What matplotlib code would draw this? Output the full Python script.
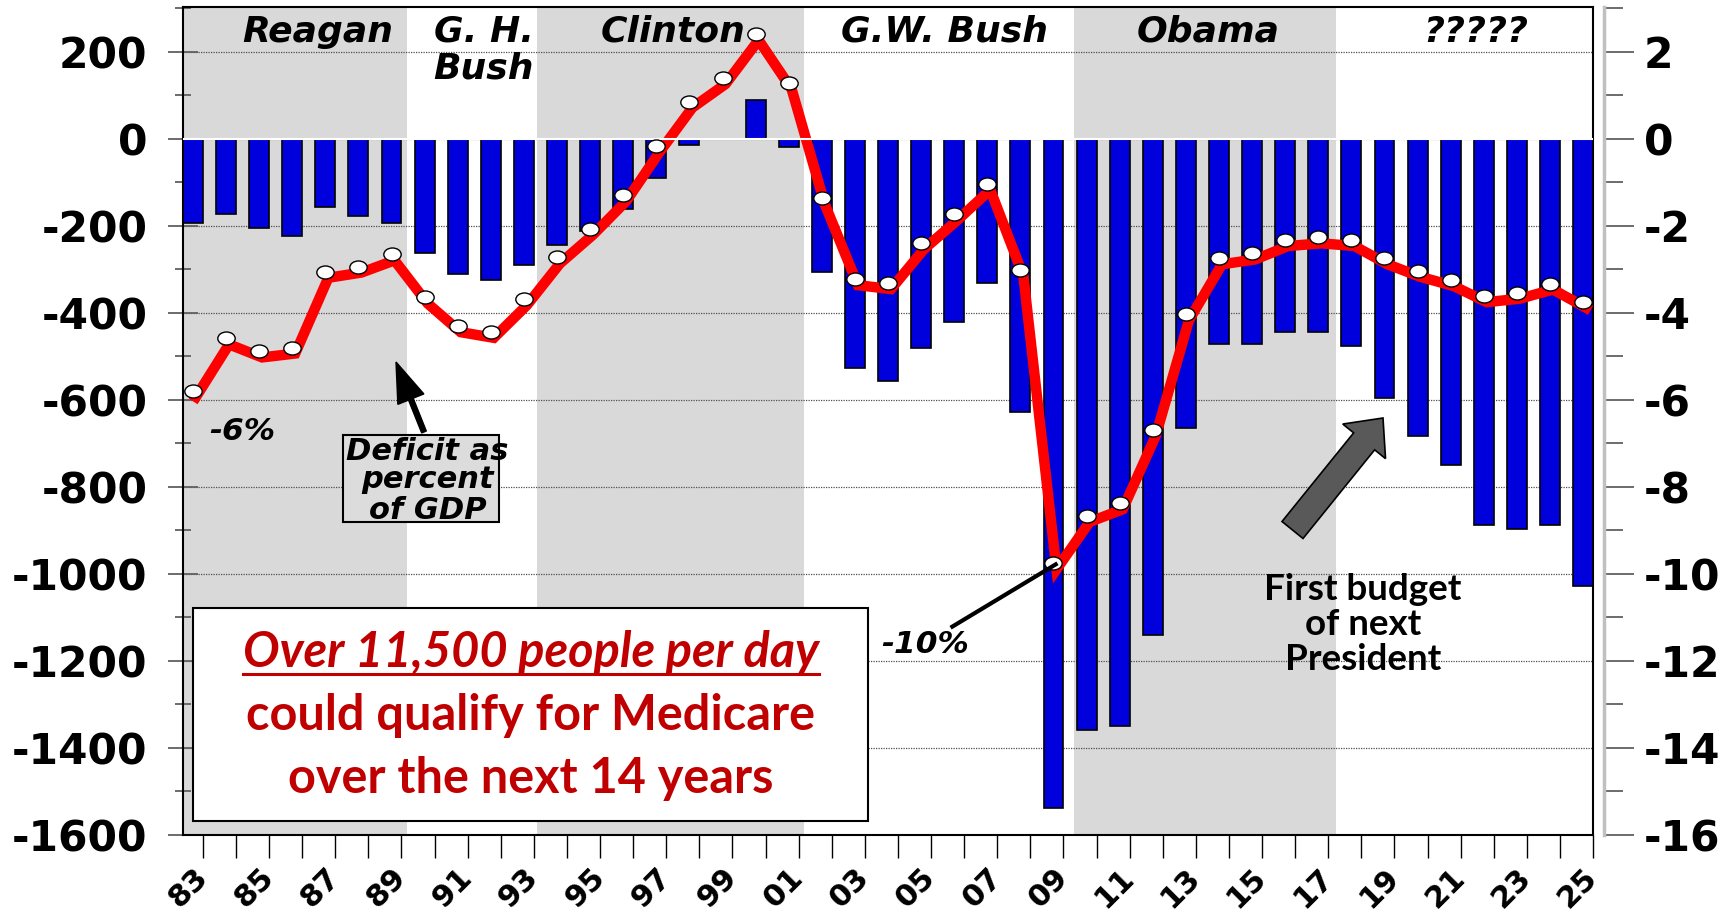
import numpy as np
import matplotlib
matplotlib.use("Agg")
import matplotlib.pyplot as plt
from matplotlib.patches import Rectangle, FancyArrow
from matplotlib.lines import Line2D
from matplotlib.markers import MarkerStyle
from matplotlib.transforms import Affine2D, ScaledTranslation, IdentityTransform
from matplotlib.ticker import MultipleLocator, FormatStrFormatter

plt.rcParams['font.family'] = 'DejaVu Sans'
plt.rcParams['font.weight'] = 'bold'
plt.rcParams['axes.unicode_minus'] = False

# fiscal years and deficits ($ billions, left axis) / deficit as % of GDP (right axis)
years = list(range(1983, 2026))
deficit_bn = [-194, -173, -206, -223, -157, -178, -194, -264, -310, -326,
              -290, -244, -212, -161, -90, -15, 0, 88, -20, -306,
              -527, -556, -481, -422, -332, -628, -1538, -1358, -1350, -1140,
              -665, -472, -472, -444, -444, -476, -596, -683, -750, -888,
              -896, -888, -1028]
deficit_pct = [-5.80, -4.59, -4.89, -4.80, -3.06, -2.94, -2.66, -3.65, -4.31, -4.44,
               -3.69, -2.73, -2.07, -1.30, -0.18, 0.85, 1.39, 2.40, 1.27, -1.37,
               -3.23, -3.32, -2.40, -1.74, -1.04, -3.02, -9.76, -8.67, -8.38, -6.69,
               -4.04, -2.75, -2.64, -2.33, -2.27, -2.33, -2.75, -3.04, -3.25, -3.62,
               -3.54, -3.33, -3.75]
tick_labels = [f"{y % 100:02d}" if i % 2 == 0 else "" for i, y in enumerate(years)]
presidents = ["Reagan", "G. H.", "Bush", "Clinton", "G.W. Bush", "Obama", "?????"]
box_lines = ["Over 11,500 people per day", "could qualify for Medicare",
             "over the next 14 years"]
note_lines = ["First budget", "of next", "President"]
gdp_lines = ["Deficit as", "percent", "of GDP"]

x = np.arange(len(years))

fig = plt.figure(figsize=(17.35, 9.13), dpi=100)
ax = fig.add_axes([183 / 1735, 78 / 913, 1410 / 1735, 828.3 / 913])
ax.set_xlim(-0.3, 42.3)
ax.set_ylim(-1600, 303)

# presidential terms shading
shade = '#D9D9D9'
ax.axvspan(-0.3, 6.47, color=shade, lw=0, zorder=0)
ax.axvspan(10.39, 18.45, color=shade, lw=0, zorder=0)
ax.axvspan(26.63, 34.55, color=shade, lw=0, zorder=0)

ax.set_axisbelow(True)
ax.grid(axis='y', which='major', color='#505050', lw=0.9, ls=(0, (1, 1)))

ax.bar(x, deficit_bn, width=0.6, color='#0000DC', edgecolor='black', lw=1.2, zorder=2)

# left axis
ax.yaxis.set_major_locator(MultipleLocator(200))
ax.yaxis.set_minor_locator(MultipleLocator(100))
ax.yaxis.set_major_formatter(FormatStrFormatter('%d'))
ax.tick_params(axis='y', which='major', direction='inout', length=21, width=1.3,
               color='#606060', labelsize=30.5, pad=15)
ax.tick_params(axis='y', which='minor', direction='inout', length=11, width=1.3,
               color='#606060')
ax.set_xticks(x + 0.3)
ax.set_xticklabels(tick_labels)
ax.tick_params(axis='x', direction='out', length=16.5, width=1.0, color='black',
               labelsize=22, pad=11)
for lab in ax.get_xticklabels():
    lab.set(rotation=45, ha='right', va='center', rotation_mode='anchor')
for s in ax.spines.values():
    s.set_color('black')
    s.set_linewidth(1.5)

# right axis (% of GDP)
ax2 = ax.twinx()
ax2.set_ylim(-16, 3.03)
ax2.yaxis.set_major_locator(MultipleLocator(2))
ax2.yaxis.set_minor_locator(MultipleLocator(1))
ax2.yaxis.set_major_formatter(FormatStrFormatter('%d'))
ax2.tick_params(axis='y', which='major', direction='out', length=21.5, width=1.3,
                color='#606060', labelsize=30.5, pad=7)
ax2.tick_params(axis='y', which='minor', direction='out', length=13.5, width=1.3,
                color='#606060')
for side in ['left', 'top', 'bottom']:
    ax2.spines[side].set_visible(False)
ax2.spines['right'].set_position(('outward', 8))
ax2.spines['right'].set_color('#C0C0C0')
ax2.spines['right'].set_linewidth(2.5)

shift = ax2.transData + ScaledTranslation(3 / 100, -6 / 100, fig.dpi_scale_trans)
ax2.plot(x, deficit_pct, color='#FF0000', lw=7.5, solid_joinstyle='miter',
         transform=shift, zorder=3)
ax2.axhline(0, color='white', lw=1.5, zorder=3.5)
ellipse = MarkerStyle('o', transform=Affine2D().scale(1.0, 0.75))
ax2.plot(x, deficit_pct, ls='none', marker=ellipse, ms=12.5, mfc='white',
         mec='black', mew=1.0, zorder=4)

# president names
name_kw = dict(style='italic', fontsize=26, ha='center', va='baseline', zorder=5)
ax.text(3.77, 222, presidents[0], **name_kw)
ax.text(8.79, 222, presidents[1], **name_kw)
ax.text(8.79, 138, presidents[2], **name_kw)
ax.text(14.5, 222, presidents[3], **name_kw)
ax.text(22.7, 222, presidents[4], **name_kw)
ax.text(30.67, 222, presidents[5], **name_kw)
ax.text(38.76, 222, presidents[6], **name_kw)

# % labels
ax.text(1.48, -692, "-6%", style='italic', fontsize=22.5, ha='center', va='baseline')
ax.text(22.11, -1182, "-10%", style='italic', fontsize=22.5, ha='center', va='baseline')
ax2.plot([22.89, 26.12], [-1123.7, -975.8], transform=ax.transData, color='black',
         lw=3, solid_capstyle='butt', zorder=5)

# "Deficit as percent of GDP" box with arrow
ax.add_patch(Rectangle((4.53, -881.6), 4.72, 200.6, fc='#DCDCDC', ec='black',
                       lw=1.5, zorder=5))
for yb, line in zip([-738, -803.5, -874.7], gdp_lines):
    ax.text(7.09, yb, line, style='italic', fontsize=22, ha='center', va='baseline',
            zorder=6)
fig.add_artist(FancyArrow(424, 913 - 432, -28, 70, width=5, head_width=28,
                          head_length=40, length_includes_head=True, color='black',
                          transform=IdentityTransform()))

# big text box
ax.add_patch(Rectangle((0.0, -1567.8), 20.41, 489.9, fc='white', ec='black',
                       lw=1.5, zorder=6))
box_texts = []
for i, (yb, line) in enumerate(zip([-1214, -1359, -1503.5], box_lines)):
    t = ax.text(10.21, yb, line, family='Lato', fontsize=35, color='#C00000',
                style='italic' if i == 0 else 'normal', ha='center', va='baseline',
                zorder=7)
    box_texts.append(t)

# first budget note + block arrow
for yb, line in zip([-1060, -1141, -1221], note_lines):
    ax.text(35.34, yb, line, family='Lato', fontsize=26.5, ha='center', va='baseline',
            zorder=5)
fig.add_artist(FancyArrow(1292.5, 913 - 530, 90.5, 112, width=27, head_width=55,
                          head_length=30, length_includes_head=True, fc='#595959',
                          ec='black', lw=1.2, transform=IdentityTransform()))

# underline first line of the box
fig.canvas.draw()
bb = box_texts[0].get_window_extent()
base_y = ax.transData.transform((10.21, -1214))[1]
fig.add_artist(Line2D([bb.x0, bb.x1], [base_y - 7, base_y - 7], color='#C00000',
                      lw=2.2, transform=IdentityTransform()))

fig.savefig('out.png', dpi=100)
